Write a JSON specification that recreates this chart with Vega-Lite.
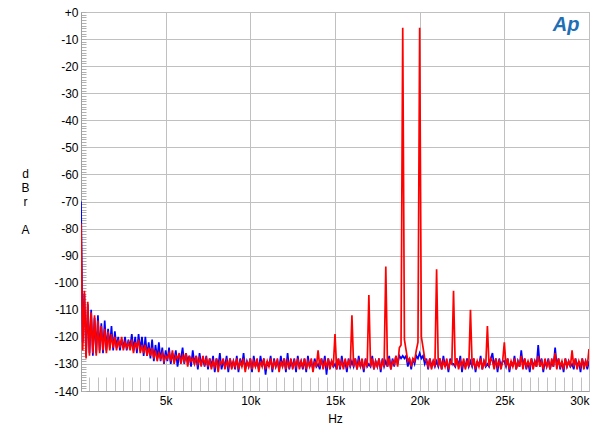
{
"$schema": "https://vega.github.io/schema/vega-lite/v6.json",
"width": 508, "height": 379,
"autosize": "none",
"padding": {"left": 81, "top": 12, "right": 11, "bottom": 41},
"background": "white",
"config": {"view": {"stroke": "#a0a0a0", "strokeWidth": 1}, "font": "Liberation Sans"},
"title": {"text": "Ap", "anchor": "end", "offset": -29, "dx": -10, "fontSize": 20, "fontStyle": "italic", "fontWeight": "bold", "color": "#1f6fb5", "font": "Liberation Sans"},
"data": {"values": [
{"f":0,"b":-70,"r":-78},{"f":100,"b":-122,"r":-125},{"f":200,"b":-104,"r":-103},{"f":300,"b":-127,"r":-128},{"f":400,"b":-108,"r":-107},{"f":500,"b":-126,"r":-127},{"f":600,"b":-110,"r":-111},{"f":700,"b":-127,"r":-126},{"f":800,"b":-113,"r":-112},{"f":900,"b":-126,"r":-127},
{"f":1000,"b":-112,"r":-114},{"f":1100,"b":-125,"r":-126},{"f":1200,"b":-115,"r":-116},{"f":1300,"b":-126,"r":-125},{"f":1400,"b":-114,"r":-117},{"f":1500,"b":-125,"r":-126},{"f":1600,"b":-117,"r":-118},{"f":1700,"b":-124,"r":-125},{"f":1800,"b":-116,"r":-119},{"f":1900,"b":-125,"r":-124},
{"f":2000,"b":-118,"r":-120},{"f":2100,"b":-124,"r":-125},{"f":2200,"b":-120,"r":-121},{"f":2300,"b":-125,"r":-124},{"f":2400,"b":-121,"r":-120},{"f":2500,"b":-124,"r":-125},{"f":2600,"b":-120,"r":-122},{"f":2700,"b":-125,"r":-124},{"f":2800,"b":-121,"r":-122},{"f":2900,"b":-124,"r":-125},
{"f":3000,"b":-119,"r":-121},{"f":3100,"b":-125,"r":-126},{"f":3200,"b":-120,"r":-122},{"f":3300,"b":-126,"r":-124},{"f":3400,"b":-119,"r":-121},{"f":3500,"b":-125,"r":-126},{"f":3600,"b":-120,"r":-123},{"f":3700,"b":-127,"r":-126},{"f":3800,"b":-120,"r":-123},{"f":3900,"b":-127,"r":-127},
{"f":4000,"b":-122,"r":-124},{"f":4100,"b":-128,"r":-127},{"f":4200,"b":-121,"r":-124},{"f":4300,"b":-129,"r":-128},{"f":4400,"b":-123,"r":-125},{"f":4500,"b":-128,"r":-129},{"f":4600,"b":-122,"r":-126},{"f":4700,"b":-129,"r":-128},{"f":4800,"b":-124,"r":-126},{"f":4900,"b":-130,"r":-129},
{"f":5000,"b":-125,"r":-127},{"f":5100,"b":-129,"r":-128},{"f":5200,"b":-124,"r":-126},{"f":5300,"b":-130,"r":-129},{"f":5400,"b":-126,"r":-125},{"f":5500,"b":-129,"r":-130},{"f":5600,"b":-125,"r":-127},{"f":5700,"b":-131,"r":-128},{"f":5800,"b":-127,"r":-126},{"f":5900,"b":-128,"r":-130},
{"f":6000,"b":-124,"r":-127},{"f":6100,"b":-130,"r":-129},{"f":6200,"b":-126,"r":-126},{"f":6300,"b":-129,"r":-131},{"f":6400,"b":-127,"r":-127},{"f":6500,"b":-131,"r":-129},{"f":6600,"b":-125,"r":-128},{"f":6700,"b":-130,"r":-130},{"f":6800,"b":-127,"r":-127},{"f":6900,"b":-132,"r":-130},
{"f":7000,"b":-126,"r":-128},{"f":7100,"b":-130,"r":-131},{"f":7200,"b":-128,"r":-127},{"f":7300,"b":-131,"r":-130},{"f":7400,"b":-127,"r":-128},{"f":7500,"b":-132,"r":-131},{"f":7600,"b":-128,"r":-128},{"f":7700,"b":-131,"r":-132},{"f":7800,"b":-127,"r":-129},{"f":7900,"b":-133,"r":-131},
{"f":8000,"b":-128,"r":-128},{"f":8100,"b":-131,"r":-133},{"f":8200,"b":-126,"r":-129},{"f":8300,"b":-132,"r":-130},{"f":8400,"b":-129,"r":-128},{"f":8500,"b":-131,"r":-132},{"f":8600,"b":-127,"r":-129},{"f":8700,"b":-133,"r":-131},{"f":8800,"b":-128,"r":-128},{"f":8900,"b":-131,"r":-132},
{"f":9000,"b":-129,"r":-129},{"f":9100,"b":-132,"r":-131},{"f":9200,"b":-127,"r":-128},{"f":9300,"b":-133,"r":-132},{"f":9400,"b":-128,"r":-129},{"f":9500,"b":-131,"r":-131},{"f":9600,"b":-126,"r":-128},{"f":9700,"b":-132,"r":-133},{"f":9800,"b":-129,"r":-129},{"f":9900,"b":-131,"r":-131},
{"f":10000,"b":-128,"r":-128},{"f":10100,"b":-133,"r":-132},{"f":10200,"b":-127,"r":-129},{"f":10300,"b":-131,"r":-131},{"f":10400,"b":-129,"r":-128},{"f":10500,"b":-132,"r":-133},{"f":10600,"b":-127,"r":-129},{"f":10700,"b":-131,"r":-131},{"f":10800,"b":-128,"r":-128},{"f":10900,"b":-134,"r":-132},
{"f":11000,"b":-129,"r":-129},{"f":11100,"b":-131,"r":-131},{"f":11200,"b":-127,"r":-128},{"f":11300,"b":-133,"r":-132},{"f":11400,"b":-128,"r":-129},{"f":11500,"b":-131,"r":-131},{"f":11600,"b":-129,"r":-128},{"f":11700,"b":-132,"r":-133},{"f":11800,"b":-127,"r":-129},{"f":11900,"b":-131,"r":-131},
{"f":12000,"b":-128,"r":-128},{"f":12100,"b":-133,"r":-132},{"f":12200,"b":-126,"r":-129},{"f":12300,"b":-132,"r":-131},{"f":12400,"b":-129,"r":-128},{"f":12500,"b":-131,"r":-132},{"f":12600,"b":-128,"r":-129},{"f":12700,"b":-133,"r":-131},{"f":12800,"b":-127,"r":-128},{"f":12900,"b":-131,"r":-132},
{"f":13000,"b":-129,"r":-129},{"f":13100,"b":-132,"r":-131},{"f":13200,"b":-128,"r":-128},{"f":13300,"b":-133,"r":-132},{"f":13400,"b":-127,"r":-129},{"f":13500,"b":-131,"r":-131},{"f":13600,"b":-129,"r":-128},{"f":13700,"b":-132,"r":-133},{"f":13800,"b":-128,"r":-129},{"f":13900,"b":-131,"r":-131},
{"f":14000,"b":-130,"r":-125},{"f":14100,"b":-132,"r":-131},{"f":14200,"b":-128,"r":-128},{"f":14300,"b":-131,"r":-132},{"f":14400,"b":-127,"r":-129},{"f":14500,"b":-134,"r":-131},{"f":14600,"b":-128,"r":-128},{"f":14700,"b":-131,"r":-132},{"f":14800,"b":-129,"r":-129},{"f":14900,"b":-131,"r":-131},
{"f":15000,"b":-130,"r":-119},{"f":15100,"b":-132,"r":-132},{"f":15200,"b":-128,"r":-128},{"f":15300,"b":-132,"r":-131},{"f":15400,"b":-127,"r":-129},{"f":15500,"b":-131,"r":-132},{"f":15600,"b":-129,"r":-128},{"f":15700,"b":-133,"r":-131},{"f":15800,"b":-128,"r":-129},{"f":15900,"b":-131,"r":-131},
{"f":16000,"b":-129,"r":-112},{"f":16100,"b":-131,"r":-131},{"f":16200,"b":-128,"r":-128},{"f":16300,"b":-132,"r":-132},{"f":16400,"b":-127,"r":-129},{"f":16500,"b":-131,"r":-131},{"f":16600,"b":-129,"r":-128},{"f":16700,"b":-133,"r":-132},{"f":16800,"b":-128,"r":-129},{"f":16900,"b":-131,"r":-131},
{"f":17000,"b":-130,"r":-104.5},{"f":17100,"b":-131,"r":-131},{"f":17200,"b":-127,"r":-128},{"f":17300,"b":-132,"r":-132},{"f":17400,"b":-129,"r":-129},{"f":17500,"b":-131,"r":-131},{"f":17600,"b":-128,"r":-128},{"f":17700,"b":-133,"r":-132},{"f":17800,"b":-128,"r":-129},{"f":17900,"b":-131,"r":-131},
{"f":18000,"b":-129,"r":-94},{"f":18100,"b":-131,"r":-131},{"f":18200,"b":-127,"r":-128},{"f":18300,"b":-132,"r":-132},{"f":18400,"b":-128,"r":-129},{"f":18500,"b":-131,"r":-130},{"f":18600,"b":-127,"r":-127},{"f":18700,"b":-130,"r":-131},{"f":18800,"b":-127,"r":-124},{"f":18900,"b":-128,"r":-123},
{"f":19000,"b":-127,"r":-5.8},{"f":19100,"b":-128,"r":-121},{"f":19200,"b":-127,"r":-125},{"f":19300,"b":-131,"r":-129},{"f":19400,"b":-128,"r":-128},{"f":19500,"b":-132,"r":-131},{"f":19600,"b":-128,"r":-128},{"f":19700,"b":-130,"r":-129},{"f":19800,"b":-127,"r":-125},{"f":19900,"b":-128,"r":-122},
{"f":20000,"b":-126,"r":-5.8},{"f":20100,"b":-128,"r":-120},{"f":20200,"b":-127,"r":-124},{"f":20300,"b":-130,"r":-128},{"f":20400,"b":-128,"r":-129},{"f":20500,"b":-132,"r":-131},{"f":20600,"b":-128,"r":-128},{"f":20700,"b":-131,"r":-132},{"f":20800,"b":-129,"r":-129},{"f":20900,"b":-131,"r":-131},
{"f":21000,"b":-129,"r":-95},{"f":21100,"b":-131,"r":-131},{"f":21200,"b":-128,"r":-128},{"f":21300,"b":-132,"r":-132},{"f":21400,"b":-127,"r":-129},{"f":21500,"b":-131,"r":-131},{"f":21600,"b":-129,"r":-128},{"f":21700,"b":-133,"r":-132},{"f":21800,"b":-128,"r":-129},{"f":21900,"b":-130,"r":-130},
{"f":22000,"b":-130,"r":-103},{"f":22100,"b":-131,"r":-131},{"f":22200,"b":-128,"r":-128},{"f":22300,"b":-131,"r":-132},{"f":22400,"b":-127,"r":-129},{"f":22500,"b":-133,"r":-131},{"f":22600,"b":-129,"r":-128},{"f":22700,"b":-131,"r":-132},{"f":22800,"b":-128,"r":-129},{"f":22900,"b":-131,"r":-131},
{"f":23000,"b":-129,"r":-110},{"f":23100,"b":-131,"r":-131},{"f":23200,"b":-128,"r":-128},{"f":23300,"b":-133,"r":-132},{"f":23400,"b":-129,"r":-129},{"f":23500,"b":-131,"r":-131},{"f":23600,"b":-127,"r":-128},{"f":23700,"b":-132,"r":-132},{"f":23800,"b":-129,"r":-129},{"f":23900,"b":-131,"r":-131},
{"f":24000,"b":-130,"r":-116},{"f":24100,"b":-131,"r":-131},{"f":24200,"b":-128,"r":-128},{"f":24300,"b":-126,"r":-129},{"f":24400,"b":-131,"r":-132},{"f":24500,"b":-128,"r":-128},{"f":24600,"b":-133,"r":-131},{"f":24700,"b":-128,"r":-129},{"f":24800,"b":-131,"r":-132},{"f":24900,"b":-129,"r":-129},
{"f":25000,"b":-129,"r":-122},{"f":25100,"b":-131,"r":-131},{"f":25200,"b":-128,"r":-128},{"f":25300,"b":-133,"r":-132},{"f":25400,"b":-129,"r":-129},{"f":25500,"b":-131,"r":-131},{"f":25600,"b":-127,"r":-128},{"f":25700,"b":-132,"r":-132},{"f":25800,"b":-129,"r":-129},{"f":25900,"b":-131,"r":-131},
{"f":26000,"b":-125,"r":-127},{"f":26100,"b":-131,"r":-132},{"f":26200,"b":-128,"r":-128},{"f":26300,"b":-132,"r":-131},{"f":26400,"b":-129,"r":-129},{"f":26500,"b":-133,"r":-131},{"f":26600,"b":-128,"r":-128},{"f":26700,"b":-131,"r":-132},{"f":26800,"b":-129,"r":-129},{"f":26900,"b":-131,"r":-131},
{"f":27000,"b":-123,"r":-127},{"f":27100,"b":-131,"r":-131},{"f":27200,"b":-128,"r":-129},{"f":27300,"b":-133,"r":-132},{"f":27400,"b":-129,"r":-128},{"f":27500,"b":-131,"r":-131},{"f":27600,"b":-128,"r":-129},{"f":27700,"b":-132,"r":-132},{"f":27800,"b":-129,"r":-128},{"f":27900,"b":-131,"r":-131},
{"f":28000,"b":-124,"r":-126},{"f":28100,"b":-131,"r":-132},{"f":28200,"b":-128,"r":-128},{"f":28300,"b":-132,"r":-131},{"f":28400,"b":-129,"r":-129},{"f":28500,"b":-133,"r":-132},{"f":28600,"b":-128,"r":-128},{"f":28700,"b":-131,"r":-131},{"f":28800,"b":-129,"r":-129},{"f":28900,"b":-131,"r":-131},
{"f":29000,"b":-130,"r":-125},{"f":29100,"b":-132,"r":-131},{"f":29200,"b":-128,"r":-128},{"f":29300,"b":-131,"r":-132},{"f":29400,"b":-129,"r":-129},{"f":29500,"b":-133,"r":-131},{"f":29600,"b":-128,"r":-128},{"f":29700,"b":-131,"r":-132},{"f":29800,"b":-129,"r":-129},{"f":29900,"b":-132,"r":-131},
{"f":30000,"b":-129,"r":-124.5}
]},
"transform": [{"fold": ["b", "r"], "as": ["ch", "v"]}],
"mark": {"type": "line", "strokeWidth": 1.7, "clip": true},
"encoding": {
  "x": {"field": "f", "type": "quantitative", "scale": {"domain": [0, 30000], "nice": false, "zero": false},
    "axis": {"title": "Hz", "tickCount": 60, "labelExpr": "datum.value % 5000 === 0 && datum.value > 0 ? (datum.value / 1000) + 'k' : ''",
      "labelFlush": true, "labelOverlap": false, "labelFontSize": 12, "labelColor": "black", "labelPadding": 18,
      "tickSize": -14, "tickColor": "#c0c0c0", "grid": true, "gridColor": "#c0c0c0",
      "gridOpacity": {"condition": {"test": "datum.value % 5000 === 0", "value": 1}, "value": 0},
      "domainColor": "#a0a0a0", "titleFontSize": 12, "titleFontWeight": "normal", "titleColor": "black", "titlePadding": 7}},
  "y": {"field": "v", "type": "quantitative", "scale": {"domain": [-140, 0], "nice": false},
    "axis": {"title": ["d", "B", "r", "\u200b", "A"], "titleAngle": 0, "titleAlign": "center", "titleBaseline": "top", "titleX": -56, "titleY": 156, "titleLineHeight": 14,
      "titleFontSize": 12, "titleFontWeight": "normal", "titleColor": "black",
      "tickCount": 140, "labelExpr": "datum.value % 10 === 0 ? (datum.value === 0 ? '+0' : '' + datum.value) : ''",
      "labelOverlap": false, "labelFontSize": 12, "labelColor": "black", "labelPadding": 8,
      "tickSize": -5, "tickColor": "#b0b0b0", "grid": true, "gridColor": "#c0c0c0",
      "gridOpacity": {"condition": {"test": "datum.value % 10 === 0", "value": 1}, "value": 0},
      "domainColor": "#a0a0a0"}},
  "color": {"field": "ch", "type": "nominal", "scale": {"domain": ["b", "r"], "range": ["#0000ff", "#ff0000"]}, "legend": null}
}
}
